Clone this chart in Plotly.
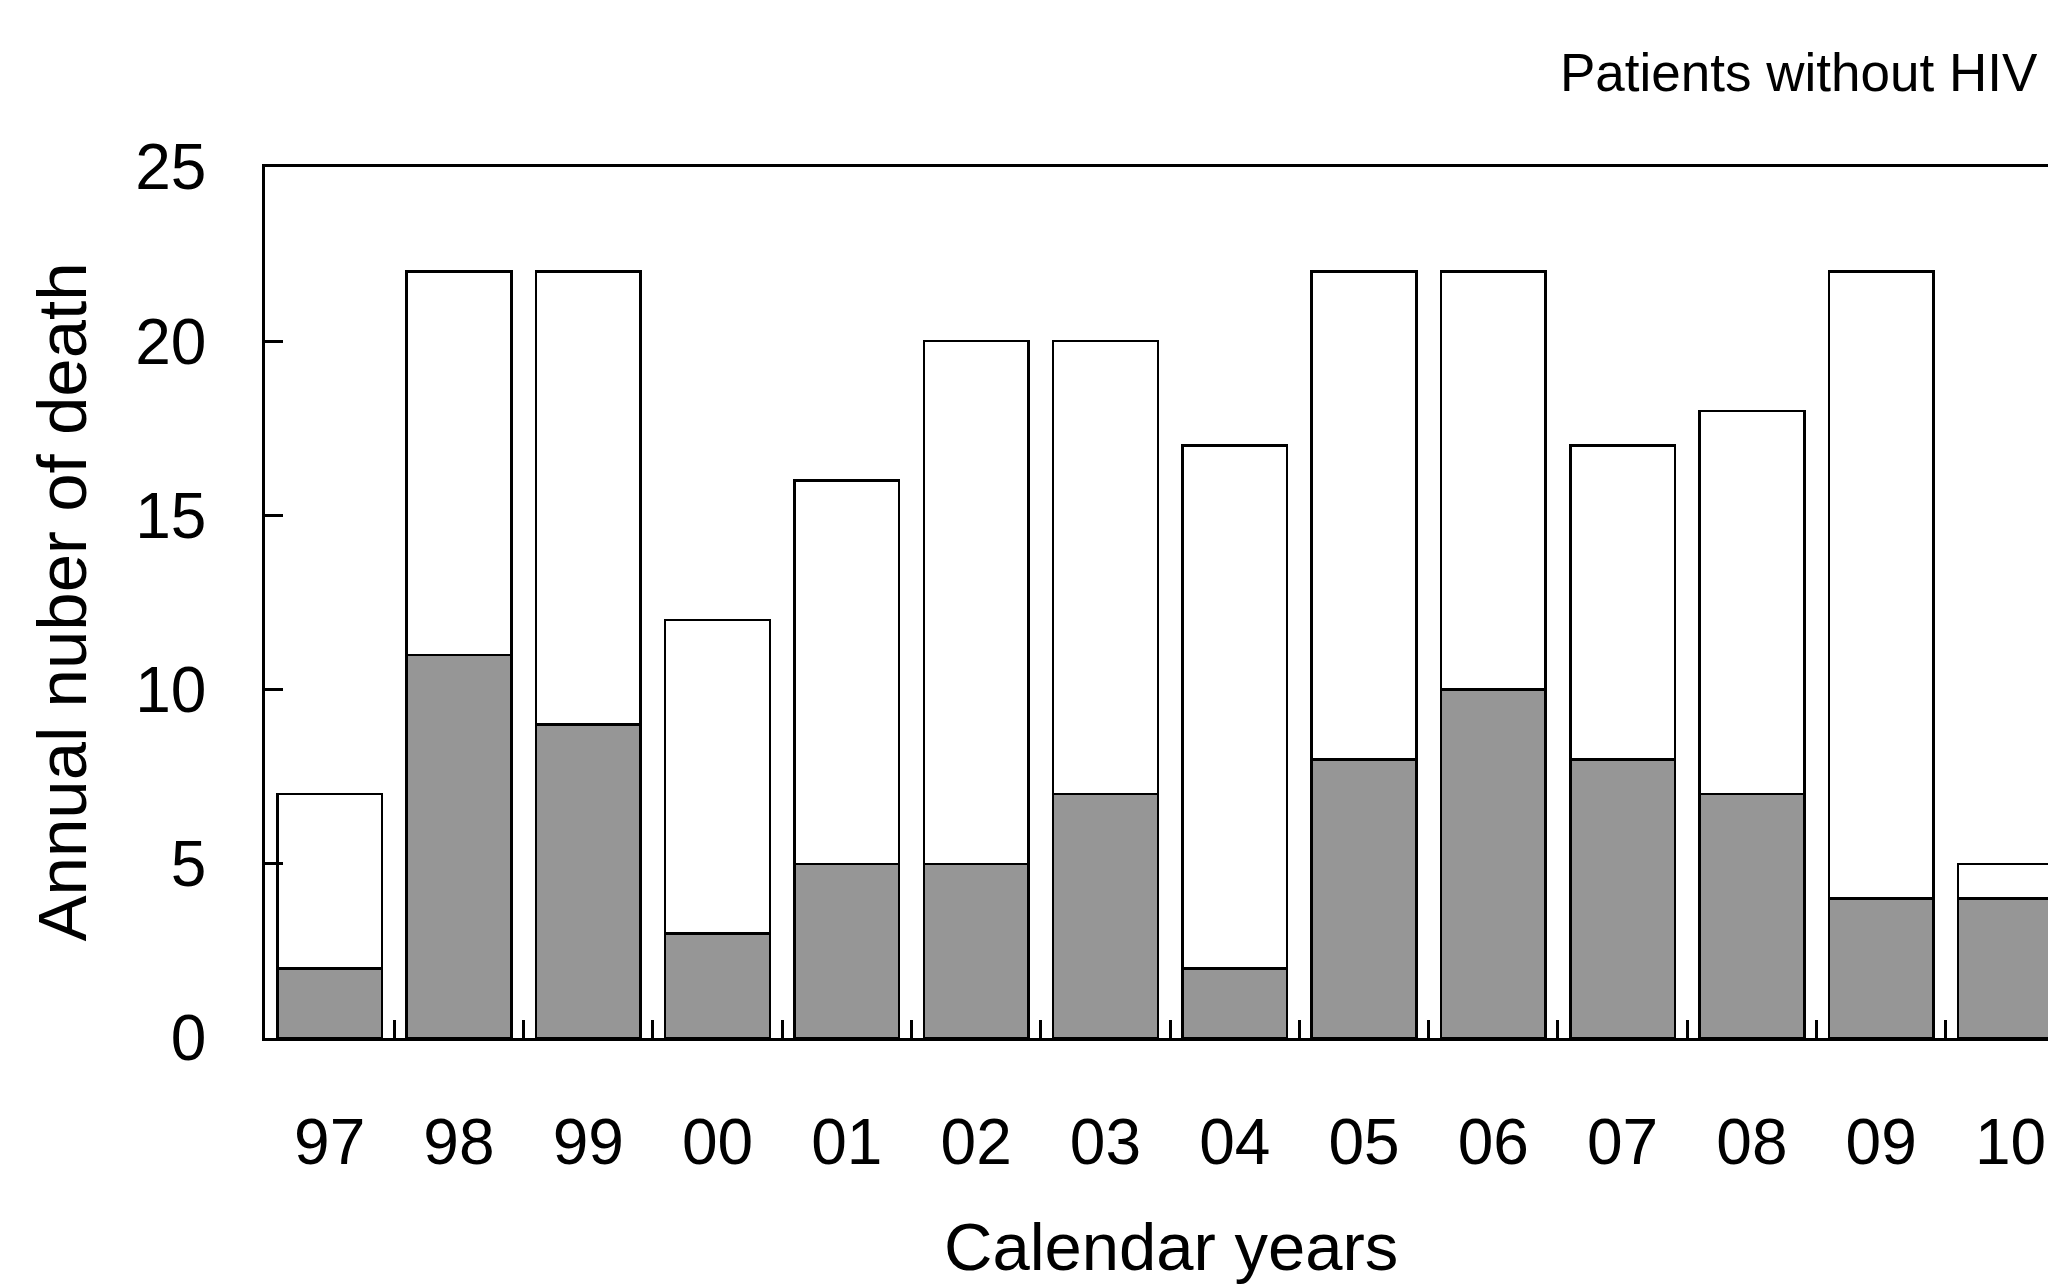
import plotly.graph_objects as go

years = ["97", "98", "99", "00", "01", "02", "03", "04", "05", "06", "07", "08", "09", "10"]
grey_vals = [2, 11, 9, 3, 5, 5, 7, 2, 8, 10, 8, 7, 4, 4]
total_vals = [7, 22, 22, 12, 16, 20, 20, 17, 22, 22, 17, 18, 22, 5]
white_vals = [t - g for t, g in zip(total_vals, grey_vals)]
y_ticks = [0, 5, 10, 15, 20, 25]

FONT = "Liberation Sans"

fig = go.Figure()
fig.add_trace(go.Bar(x=years, y=grey_vals, marker=dict(color="#969696", line=dict(color="#000000", width=2.5)),
                     showlegend=False))
fig.add_trace(go.Bar(x=years, y=white_vals, marker=dict(color="#ffffff", line=dict(color="#000000", width=2.5)),
                     showlegend=False))

fig.update_layout(
    width=2048, height=1285,
    barmode="stack", bargap=0.19,
    plot_bgcolor="white", paper_bgcolor="white",
    margin=dict(l=265, r=0, t=167, b=247, autoexpand=False),
    font=dict(family=FONT, color="#000000"),
    annotations=[
        dict(text="Patients without HIV", xref="paper", yref="paper", x=1.0, y=1.0,
             xanchor="right", yanchor="middle", yshift=95, xshift=-8, showarrow=False,
             font=dict(size=53, family=FONT, color="#000000")),
        dict(text="Calendar years", xref="paper", yref="paper", x=0.5, y=0,
             xanchor="center", yanchor="bottom", yshift=-248, xshift=14, showarrow=False,
             font=dict(size=67, family=FONT, color="#000000")),
        dict(text="Annual nuber of death", xref="paper", yref="paper", x=0, y=0.5,
             xanchor="center", yanchor="middle", xshift=-203, textangle=-90, showarrow=False,
             font=dict(size=69, family=FONT, color="#000000")),
    ],
)
fig.update_xaxes(
    type="category", range=[-0.5, 13.29], automargin=False,
    showline=True, linecolor="#000000", linewidth=2.5, mirror=True,
    ticks="inside", ticklen=18, tickwidth=2.5, tickcolor="#000000", tickson="boundaries",
    tickfont=dict(size=64, family=FONT), ticklabelstandoff=46,
    showgrid=False, zeroline=False,
)
fig.update_yaxes(
    range=[0, 25], tickvals=y_ticks, automargin=False,
    showline=True, linecolor="#000000", linewidth=2.5, mirror=False,
    ticks="inside", ticklen=18, tickwidth=2.5, tickcolor="#000000",
    tickfont=dict(size=64, family=FONT), ticklabelstandoff=43,
    showgrid=False, zeroline=False,
)

fig.write_html("out.html", config={"displayModeBar": False},
               post_script="document.body.style.margin='0';document.body.style.overflow='hidden';")
